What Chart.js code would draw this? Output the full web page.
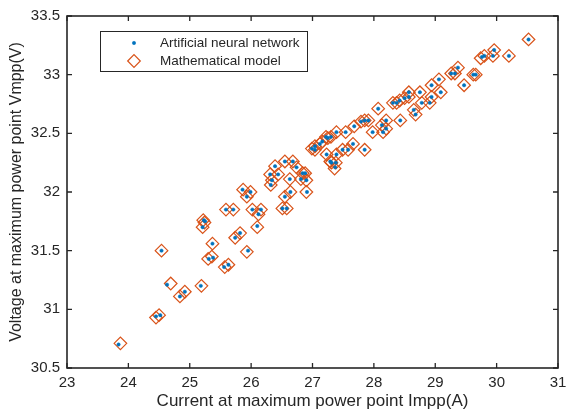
<!DOCTYPE html>
<html>
<head>
<meta charset="utf-8">
<script src="https://cdn.jsdelivr.net/npm/chart.js@4/dist/chart.umd.min.js"></script>
<style>
html,body{margin:0;padding:0;background:#fff;}
#wrap{position:relative;width:567px;height:412px;}
</style>
</head>
<body>
<div id="wrap"><canvas id="c" width="567" height="412"></canvas></div>
<script>
// Mathematical model (diamonds)
const mathI = [23.87,24.45,24.50,24.54,24.69,24.84,24.92,25.19,25.22,25.24,25.21,25.30,25.36,25.37,25.57,25.63,25.59,25.71,25.74,25.82,25.87,25.93,25.99,25.93,26.02,26.16,26.12,26.10,26.31,26.44,26.32,26.34,26.39,26.55,26.68,26.74,26.63,26.55,26.64,26.51,26.58,26.88,26.81,26.90,26.90,26.99,27.04,27.04,27.12,27.16,27.25,27.22,27.30,27.39,27.54,27.68,27.79,27.85,27.91,28.07,27.23,27.29,27.39,27.36,27.31,27.38,27.49,27.58,27.66,27.85,27.98,28.13,28.15,28.20,28.20,28.31,28.37,28.43,28.42,28.50,28.57,28.57,28.65,28.68,28.75,28.78,28.91,28.94,28.94,29.09,29.06,29.26,29.32,29.37,29.47,29.62,29.66,29.74,29.80,29.94,29.96,30.20,30.52,26.84];
const mathV = [30.71,30.93,30.95,31.50,31.22,31.11,31.15,31.20,31.76,31.74,31.70,31.43,31.45,31.56,31.36,31.38,31.85,31.85,31.61,31.65,32.02,31.96,32.00,31.49,31.85,31.85,31.81,31.70,32.15,32.15,32.06,32.10,32.22,32.26,32.26,32.21,32.11,31.96,32.00,31.86,31.86,32.16,32.11,32.10,32.00,32.37,32.36,32.39,32.41,32.43,32.46,32.47,32.47,32.51,32.51,32.56,32.60,32.61,32.61,32.71,32.32,32.26,32.32,32.20,32.25,32.25,32.36,32.36,32.41,32.36,32.51,32.57,32.51,32.54,32.61,32.76,32.76,32.61,32.78,32.80,32.81,32.85,32.70,32.66,32.85,32.76,32.76,32.81,32.91,32.85,32.96,33.01,33.01,33.06,32.91,33.00,33.00,33.14,33.16,33.16,33.21,33.16,33.30,32.16];
// Artificial neural network (dots)
const annI = [23.84,24.45,24.52,24.54,24.63,24.84,24.92,25.18,25.23,25.25,25.21,25.31,25.38,25.37,25.56,25.63,25.59,25.71,25.74,25.82,25.86,25.93,25.99,25.95,26.02,26.16,26.12,26.10,26.31,26.44,26.32,26.34,26.39,26.55,26.68,26.74,26.63,26.55,26.64,26.51,26.58,26.88,26.81,26.90,26.91,26.99,27.04,27.04,27.12,27.16,27.25,27.22,27.30,27.39,27.54,27.68,27.79,27.85,27.91,28.07,27.23,27.29,27.39,27.37,27.31,27.38,27.49,27.58,27.66,27.85,27.98,28.13,28.15,28.20,28.20,28.31,28.37,28.43,28.42,28.50,28.57,28.57,28.65,28.68,28.75,28.78,28.91,28.94,28.94,29.09,29.06,29.26,29.32,29.37,29.47,29.62,29.66,29.76,29.80,29.94,29.96,30.20,30.52,26.84];
const annV = [30.70,30.94,30.95,31.50,31.21,31.11,31.15,31.20,31.76,31.75,31.70,31.43,31.44,31.56,31.36,31.38,31.85,31.85,31.61,31.65,32.02,31.96,32.00,31.50,31.85,31.85,31.81,31.71,32.15,32.15,32.06,32.10,32.22,32.26,32.26,32.21,32.11,31.96,32.00,31.86,31.86,32.16,32.11,32.10,32.00,32.37,32.36,32.39,32.41,32.43,32.46,32.47,32.47,32.51,32.51,32.56,32.60,32.61,32.61,32.71,32.32,32.26,32.32,32.21,32.25,32.25,32.36,32.36,32.41,32.36,32.51,32.57,32.51,32.54,32.61,32.76,32.76,32.61,32.78,32.80,32.81,32.85,32.70,32.66,32.85,32.76,32.76,32.81,32.91,32.85,32.96,33.01,33.01,33.06,32.91,33.00,33.00,33.15,33.16,33.16,33.21,33.16,33.30,32.16];
const xTicks = [23,24,25,26,27,28,29,30,31];
const yTicks = [30.5,31,31.5,32,32.5,33,33.5];
const labelANN = 'Artificial neural network';
const labelMath = 'Mathematical model';
const xTitle = 'Current at maximum power point Impp(A)';
const yTitle = 'Voltage at maximum power point Vmpp(V)';

const BLUE = '#0072BD', ORANGE = '#D95319', AX = '#262626';
const FONT = '"Liberation Sans", Arial, Helvetica, sans-serif';

const annData = annI.map((x,i)=>({x, y: annV[i]}));
const mathData = mathI.map((x,i)=>({x, y: mathV[i]}));

const framePlugin = {
  id: 'frame',
  afterDatasetsDraw(chart) {
    const {ctx, chartArea: a, scales: {x, y}} = chart;
    ctx.save();
    ctx.strokeStyle = AX;
    ctx.lineWidth = 1.6;
    ctx.strokeRect(a.left, a.top, a.right - a.left, a.bottom - a.top);
    ctx.lineWidth = 1.3;
    const L = 5;
    ctx.beginPath();
    xTicks.forEach(v => {
      const px = x.getPixelForValue(v);
      ctx.moveTo(px, a.bottom); ctx.lineTo(px, a.bottom - L);
      ctx.moveTo(px, a.top); ctx.lineTo(px, a.top + L);
    });
    yTicks.forEach(v => {
      const py = y.getPixelForValue(v);
      ctx.moveTo(a.left, py); ctx.lineTo(a.left + L, py);
      ctx.moveTo(a.right, py); ctx.lineTo(a.right - L, py);
    });
    ctx.stroke();

    // legend
    const bx = 100, by = 31, bw = 207, bh = 40;
    ctx.fillStyle = '#fff';
    ctx.fillRect(bx, by, bw, bh);
    ctx.lineWidth = 1;
    ctx.strokeStyle = AX;
    ctx.strokeRect(bx + 0.5, by + 0.5, bw, bh);
    const ds = chart.data.datasets;
    const rows = [by + 12, by + 30];
    ds.forEach((d, i) => {
      const cy = rows[i];
      ctx.save();
      ctx.strokeStyle = d.borderColor;
      ctx.fillStyle = d.backgroundColor;
      ctx.lineWidth = d.borderWidth;
      Chart.helpers.drawPoint(ctx, {pointStyle: d.pointStyle, radius: d.pointRadius, borderWidth: d.borderWidth, rotation: 0}, 134, cy);
      ctx.restore();
      ctx.fillStyle = AX;
      ctx.font = '13.5px ' + FONT;
      ctx.textBaseline = 'middle';
      ctx.textAlign = 'left';
      ctx.fillText(d.label, 160, cy);
    });
    ctx.restore();
  }
};

new Chart(document.getElementById('c'), {
  type: 'scatter',
  data: {
    datasets: [
      { label: labelANN, data: annData, pointStyle: 'circle', pointRadius: 1.7, borderWidth: 0.5,
        borderColor: BLUE, backgroundColor: BLUE, pointHoverRadius: 1.7 },
      { label: labelMath, data: mathData, pointStyle: 'rectRot', pointRadius: 6.3, borderWidth: 1.2,
        borderColor: ORANGE, backgroundColor: 'rgba(0,0,0,0)', pointHoverRadius: 6.3 }
    ]
  },
  options: {
    responsive: false,
    animation: false,
    events: [],
    layout: { padding: { top: 16, right: 9, left: 0, bottom: 0 } },
    plugins: { legend: { display: false }, tooltip: { enabled: false } },
    scales: {
      x: {
        type: 'linear', min: 23, max: 31,
        afterFit(s) { s.height = 44; s.paddingLeft = 0; s.paddingRight = 0; },
        afterBuildTicks(s) { s.ticks = xTicks.map(v => ({value: v})); },
        grid: { display: false, drawTicks: false },
        border: { display: false },
        ticks: { color: AX, font: { family: FONT, size: 15 }, padding: 6, maxRotation: 0,
                 callback: v => String(v) },
        title: { display: true, text: xTitle, color: AX, font: { family: FONT, size: 17 },
                 padding: { top: 0, bottom: 0 } }
      },
      y: {
        type: 'linear', min: 30.5, max: 33.5,
        afterFit(s) { s.width = 67; s.paddingTop = 0; s.paddingBottom = 0; },
        afterBuildTicks(s) { s.ticks = yTicks.map(v => ({value: v})); },
        grid: { display: false, drawTicks: false },
        border: { display: false },
        ticks: { color: AX, font: { family: FONT, size: 15 }, padding: 7,
                 callback: v => String(v) },
        title: { display: true, text: yTitle, color: AX, font: { family: FONT, size: 16 },
                 padding: { top: 7, bottom: 0 } }
      }
    }
  },
  plugins: [framePlugin]
});
</script>
</body>
</html>
